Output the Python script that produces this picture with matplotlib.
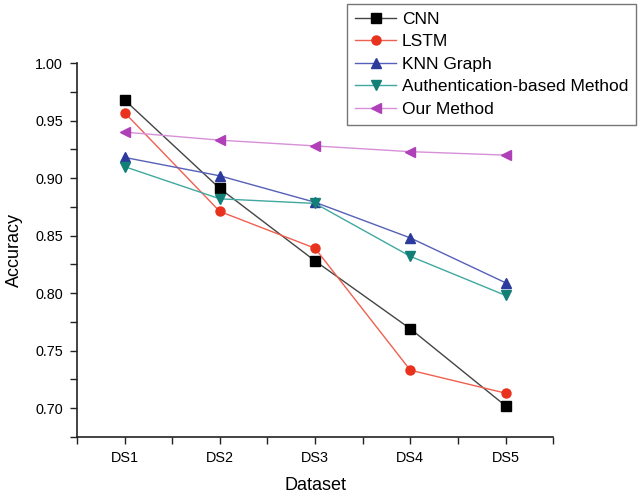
import numpy as np
import matplotlib.pyplot as plt
from matplotlib.ticker import MultipleLocator

datasets = ["DS1", "DS2", "DS3", "DS4", "DS5"]
cnn = [0.968, 0.891, 0.828, 0.769, 0.702]
lstm = [0.957, 0.871, 0.839, 0.733, 0.713]
knn = [0.918, 0.902, 0.879, 0.848, 0.809]
auth = [0.910, 0.882, 0.878, 0.832, 0.798]
ours = [0.940, 0.933, 0.928, 0.923, 0.920]

plt.rcParams['font.family'] = ['Liberation Sans', 'DejaVu Sans']


def main():
    fig = plt.figure(figsize=(6.41, 4.97), dpi=100)
    ax = fig.add_axes([0.120, 0.121, 0.743, 0.752])
    x = np.arange(1, len(datasets) + 1)

    series = [
        ("CNN", cnn, "s", "#000000", "#444444"),
        ("LSTM", lstm, "o", "#e8321e", "#f06050"),
        ("KNN Graph", knn, "^", "#2b3a9c", "#5560b8"),
        ("Authentication-based Method", auth, "v", "#138078", "#40a8a0"),
        ("Our Method", ours, "<", "#b040b8", "#d890d8"),
    ]
    for name, vals, mk, mc, lc in series:
        ms = 6.5 if mk in ("s", "o") else 7.5
        ax.plot(x, vals, color=lc, lw=1.0, marker=mk, markersize=ms,
                markerfacecolor=mc, markeredgecolor=mc, label=name)

    ax.set_xlim(0.5, 5.5)
    ax.set_ylim(0.675, 1.0)
    ax.set_xticks(x)
    ax.set_xticklabels(datasets)
    ax.xaxis.set_minor_locator(MultipleLocator(0.5))
    ax.yaxis.set_major_locator(MultipleLocator(0.05))
    ax.yaxis.set_minor_locator(MultipleLocator(0.025))
    ax.yaxis.set_major_formatter(plt.FormatStrFormatter('%.2f'))
    ax.tick_params(which='both', direction='out', length=5, width=1.0,
                   labelsize=10.4, color='#222222', pad=5)
    ax.spines['top'].set_visible(False)
    ax.spines['right'].set_visible(False)
    for s in ('left', 'bottom'):
        ax.spines[s].set_linewidth(1.2)
        ax.spines[s].set_color('#222222')

    ax.set_xlabel("Dataset", fontsize=13, labelpad=9)
    ax.set_ylabel("Accuracy", fontsize=13, labelpad=9)

    leg = fig.legend(loc='upper left', bbox_to_anchor=(347 / 641, 1 - 4 / 497),
                     borderaxespad=0, fontsize=12.5, frameon=True,
                     fancybox=False, edgecolor='#555555', labelspacing=0.42,
                     handlelength=2.4, handletextpad=0.3, borderpad=0.45)
    leg.get_frame().set_linewidth(1.0)

    fig.savefig("out.png", dpi=100)


if __name__ == "__main__":
    main()
